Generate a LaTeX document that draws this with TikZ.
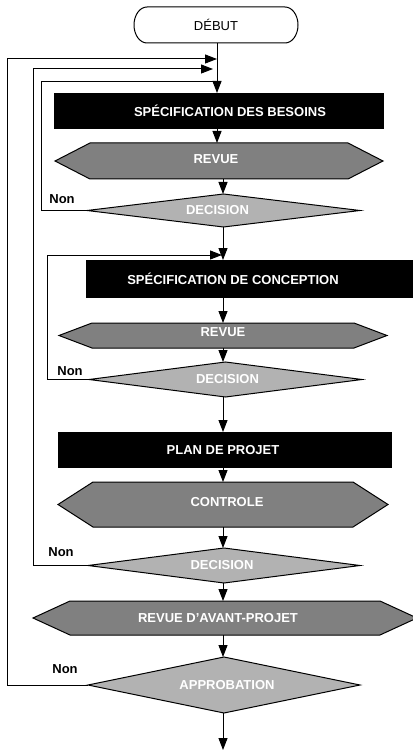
\documentclass[tikz,border=0pt]{standalone}
\usepackage{fontspec}
\setmainfont{Liberation Sans}
\usetikzlibrary{arrows.meta,calc}
\definecolor{hexgray}{HTML}{808080}
\definecolor{diagray}{HTML}{B2B2B2}
\begin{document}
\begin{tikzpicture}[x=1pt,y=1pt,
  lw/.style={line width=1pt},
  arr/.style={lw,-{Triangle[length=12pt,width=9pt]}},
  txt/.style={font=\fontsize{13}{15}\selectfont\bfseries},
  wtxt/.style={txt,text=white},
  shp/.style={inner sep=0pt,outer sep=0pt},
  boxst/.style={shp,fill=black},
  hexst/.style={lw,fill=hexgray},
  diast/.style={lw,fill=diagray}]
\useasboundingbox (0,0) rectangle (412,-751);
% coordinates of the two main columns
\coordinate (c1) at (217,0);
\coordinate (c2) at (223,0);
% start
\node[shp,minimum width=164,minimum height=36] (debut) at (216,-25) {};
\draw[lw,fill=white] ($(debut.north west)+(13,0)$) -- ($(debut.north east)+(-13,0)$)
  arc[start angle=90,end angle=-90,x radius=13,y radius=18]
  -- ($(debut.south west)+(13,0)$)
  arc[start angle=270,end angle=90,x radius=13,y radius=18] -- cycle;
\node[font=\fontsize{13}{15}\selectfont] (debutt) at (debut) {DÉBUT};
% box 1
\node[boxst,minimum width=330,minimum height=36] (b1) at (219,-111) {};
\node[wtxt] (b1t) at ($(b1)+(11,0)$) {SPÉCIFICATION DES BESOINS};
% hex 1
\node[shp,minimum width=328,minimum height=36] (h1) at (219,-161) {};
\draw[hexst] (h1.west) -- ($(h1.north west)+(35,0)$) -- ($(h1.north east)+(-35,0)$) -- (h1.east) -- ($(h1.south east)+(-35,0)$) -- ($(h1.south west)+(35,0)$) -- cycle;
\node[wtxt] (h1t) at ($(h1)+(-3,2)$) {REVUE};
% diamond 1
\node[shp,minimum width=273,minimum height=33] (d1) at (223.5,-210.5) {};
\draw[diast] (d1.west) -- (d1.north) -- (d1.east) -- (d1.south) -- cycle;
\node[wtxt] (d1t) at ($(d1)+(-6,0)$) {DECISION};
% box 2
\node[boxst,minimum width=328,minimum height=38] (b2) at (250,-279) {};
\node[wtxt] (b2t) at ($(b2)+(-17,0)$) {SPÉCIFICATION DE CONCEPTION};
% hex 2
\node[shp,minimum width=328,minimum height=25] (h2) at (223,-335.5) {};
\draw[hexst] (h2.west) -- ($(h2.north west)+(33,0)$) -- ($(h2.north east)+(-33,0)$) -- (h2.east) -- ($(h2.south east)+(-33,0)$) -- ($(h2.south west)+(33,0)$) -- cycle;
\node[wtxt] (h2t) at ($(h2)+(0,3)$) {REVUE};
% diamond 2
\node[shp,minimum width=273,minimum height=35] (d2) at (225.5,-379.5) {};
\draw[diast] (d2.west) -- (d2.north) -- (d2.east) -- (d2.south) -- cycle;
\node[wtxt] (d2t) at ($(d2)+(2,0)$) {DECISION};
% box 3
\node[boxst,minimum width=334,minimum height=36] (b3) at (225,-450) {};
\node[wtxt] (b3t) at ($(b3)+(-2,0)$) {PLAN DE PROJET};
% hex 3
\node[shp,minimum width=330,minimum height=45] (h3) at (223,-504.5) {};
\draw[hexst] (h3.west) -- ($(h3.north west)+(35,0)$) -- ($(h3.north east)+(-35,0)$) -- (h3.east) -- ($(h3.south east)+(-35,0)$) -- ($(h3.south west)+(35,0)$) -- cycle;
\node[wtxt] (h3t) at ($(h3)+(4,2)$) {CONTROLE};
% diamond 3
\node[shp,minimum width=272,minimum height=35] (d3) at (224,-565.5) {};
\draw[diast] (d3.west) -- (d3.north) -- (d3.east) -- (d3.south) -- cycle;
\node[wtxt] (d3t) at ($(d3)+(-2,0)$) {DECISION};
% hex 4
\node[shp,minimum width=384,minimum height=34] (h4) at (225,-618) {};
\draw[hexst] (h4.west) -- ($(h4.north west)+(37,0)$) -- ($(h4.north east)+(-37,0)$) -- (h4.east) -- ($(h4.south east)+(-37,0)$) -- ($(h4.south west)+(37,0)$) -- cycle;
\node[wtxt] (h4t) at ($(h4)+(-7,0)$) {REVUE D'AVANT-PROJET};
% diamond 4
\node[shp,minimum width=272,minimum height=56] (d4) at (224,-685) {};
\draw[diast] (d4.west) -- (d4.north) -- (d4.east) -- (d4.south) -- cycle;
\node[wtxt] (d4t) at ($(d4)+(3,0)$) {APPROBATION};
% main flow
\draw[arr] (debut.south -| c1) -- (b1.north -| c1);
\draw[arr] (b1.south -| c1) -- (h1.north -| c1);
\draw[arr] (h1.south -| c2) -- (d1.north -| c2);
\draw[arr] (d1.south -| c2) -- (b2.north -| c2);
\draw[arr] (b2.south -| c2) -- (h2.north -| c2);
\draw[arr] (h2.south -| c2) -- (d2.north -| c2);
\draw[arr] (d2.south -| c2) -- (b3.north -| c2);
\draw[arr] (b3.south -| c2) -- (h3.north -| c2);
\draw[arr] (h3.south -| c2) -- (d3.north -| c2);
\draw[arr] (d3.south -| c2) -- (h4.north -| c2);
\draw[arr] (h4.south -| c2) -- (d4.north -| c2);
\coordinate (fin) at (223,-750);
\draw[arr] (d4.south -| c2) -- (fin);
% loops back
\coordinate (j1) at (217,-59);
\coordinate (j2) at (213,-69);
\coordinate (j3) at (217,-82);
\coordinate (j4) at (222,-255);
\draw[arr] (d4.west) -- (7,-685) -- (7,-59) -- (j1);
\draw[arr] (d3.west) -- (33,-565.5) -- (33,-69) -- (j2);
\draw[lw] (d1.west) -- (41,-210.5) -- (41,-82) -- (j3);
\draw[arr] (d2.west) -- (47,-379.5) -- (47,-255) -- (j4);
% labels
\node[txt] (n1) at (62,-199) {Non};
\node[txt] (n2) at (70,-371) {Non};
\node[txt] (n3) at (61,-552) {Non};
\node[txt] (n4) at (65,-669) {Non};
\end{tikzpicture}
\end{document}
